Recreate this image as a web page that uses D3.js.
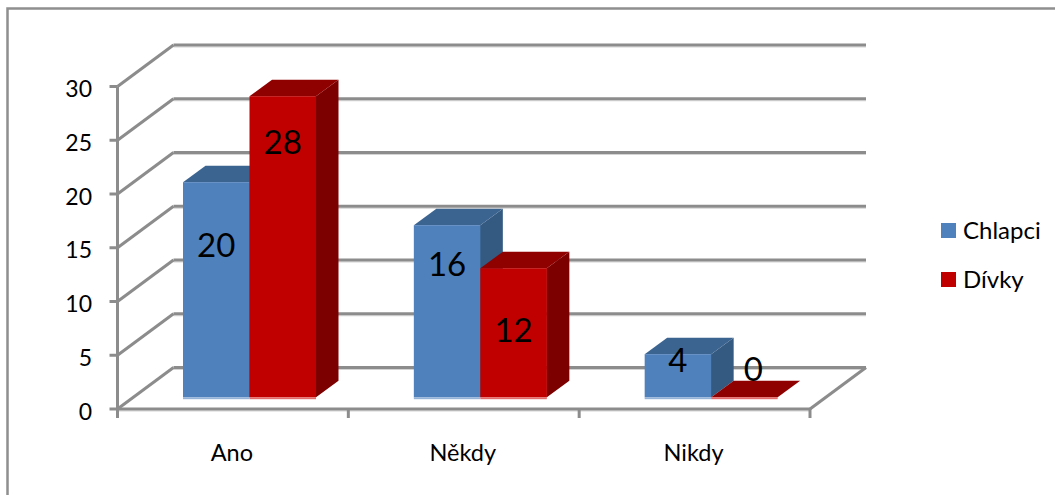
<!DOCTYPE html>
<html><head><meta charset="utf-8">
<script src="https://cdn.jsdelivr.net/npm/d3@7/dist/d3.min.js"></script>
<style>html,body{margin:0;padding:0;background:#fff}svg{display:block}text{font-family:Lato,"Open Sans",sans-serif;fill:#000}</style>
</head><body><div id="c"></div>
<script>
const categories = ["Ano", "Někdy", "Nikdy"];
const seriesNames = ["Chlapci", "Dívky"];
const chlapci = [20, 16, 4];
const divky = [28, 12, 0];
const yTicks = [0, 5, 10, 15, 20, 25, 30];

const W = 1055, H = 495;
const grey = "#8c8c8c", shadow = "#d4d4d4";
const colors = {
  Chlapci: {front: "#4f81bd", top: "#3c6491", side: "#345a82", strip: "#95b3d7"},
  "Dívky": {front: "#c00000", top: "#8f0000", side: "#7c0000", strip: "#e46c6c"}
};
const depth = {x: 56, y: -41.5};
const barDepth = {x: 22.5, y: -16.5};
const floorInset = 11.8;
const barW = 66.5, barLead = 65.5;
// label nudges from bar top (px), per series and category, as seen in the reference
const labelDy = [[63, 39, 6], [46, 62, -28]];
const labelDx = [[0, 0, 0], [0, 0, 9]];

const x = d3.scaleBand().domain(categories).range([117.5, 810]);
const y = d3.scaleLinear().domain([0, 30]).range([409, 86.5]);

const svg = d3.select("#c").append("svg").attr("width", W).attr("height", H);

// chart frame
svg.append("path").attr("d", `M7.5,${H}V8.5H${W}`).attr("fill", "none").attr("stroke", "#8f8f8f").attr("stroke-width", 2.5);

const line = (x1, y1, x2, y2, w = 3, c = grey) => svg.append("line")
  .attr("x1", x1).attr("y1", y1).attr("x2", x2).attr("y2", y2).attr("stroke", c).attr("stroke-width", w);

const x0 = x.range()[0], x1 = x.range()[1];

// back wall gridlines, their soft shadows, and the side wall diagonals
yTicks.forEach(t => {
  const yy = y(t);
  line(x0 + depth.x, yy + depth.y + 2, x1 + depth.x, yy + depth.y + 2, 1.2, shadow);
  line(x0 + depth.x, yy + depth.y, x1 + depth.x, yy + depth.y);
  line(x0, yy, x0 + depth.x, yy + depth.y);
  line(x0 - 8, yy, x0, yy);
});
line(x0, y(30), x0, y(0) + 9);
// floor
line(x0, y(0) + 2, x1, y(0) + 2, 1.2, shadow);
line(x0, y(0), x1, y(0));
line(x1, y(0), x1 + depth.x, y(0) + depth.y);

// category ticks
[...categories.map(c => x(c)), x1].forEach(p => line(p, y(0), p, y(0) + 9));

// y tick labels
svg.selectAll("text.yt").data(yTicks).join("text").attr("class", "yt")
  .attr("x", 92).attr("y", d => y(d) + 10.5).attr("text-anchor", "end")
  .attr("font-size", 23).text(d => d);

// bars
const base = y(0) - floorInset;
const h = v => y(0) - y(v);
const drawBar = (px, v, col) => {
  const top = base - h(v);
  const g = svg.append("g");
  if (v > 0) {
    g.append("path").attr("fill", col.side)
      .attr("d", `M${px + barW - 0.5},${top}h0.5l${barDepth.x},${barDepth.y}V${base + barDepth.y}l${-barDepth.x},${-barDepth.y}h-0.5Z`);
  }
  g.append("path").attr("fill", col.top)
    .attr("d", `M${px},${top}l${barDepth.x},${barDepth.y}h${barW}l${-barDepth.x},${-barDepth.y}Z`);
  if (v > 0) {
    g.append("rect").attr("x", px).attr("y", top).attr("width", barW).attr("height", h(v)).attr("fill", col.front);
  }
  g.append("rect").attr("x", px).attr("y", base).attr("width", barW).attr("height", 2).attr("fill", col.strip);
};
categories.forEach((c, i) => {
  const left = x(c) + barLead;
  drawBar(left, chlapci[i], colors.Chlapci);
  drawBar(left + barW, divky[i], colors["Dívky"]);
});

// data labels
categories.forEach((c, i) => {
  [chlapci, divky].forEach((vals, s) => {
    svg.append("text")
      .attr("x", x(c) + barLead + barW * (s + 0.5) + labelDx[s][i])
      .attr("y", base - h(vals[i]) + labelDy[s][i] + 11.5)
      .attr("text-anchor", "middle").attr("font-size", 33).text(vals[i]);
  });
});

// category labels
svg.selectAll("text.xt").data(categories).join("text").attr("class", "xt")
  .attr("x", d => x(d) + x.bandwidth() / 2 - 1).attr("y", 461)
  .attr("text-anchor", "middle").attr("font-size", 23.5).text(d => d);

// legend
const legY = d3.scalePoint().domain(seriesNames).range([230.5, 279.5]);
seriesNames.forEach(n => {
  svg.append("rect").attr("x", 941).attr("y", legY(n) - 7.5).attr("width", 15).attr("height", 15).attr("fill", colors[n].front);
  svg.append("text").attr("x", 963).attr("y", legY(n) + 8).attr("font-size", 24).text(n);
});
</script></body></html>
